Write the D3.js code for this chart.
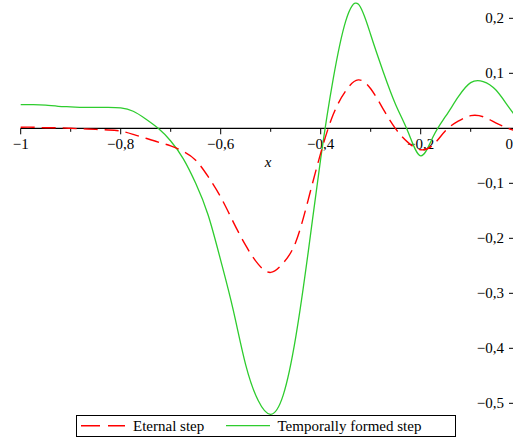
<!DOCTYPE html>
<html><head><meta charset="utf-8">
<script src="https://cdn.jsdelivr.net/npm/d3@7"></script>
<style>body{margin:0;background:#fff}svg{display:block}</style>
</head><body>
<svg id="c" width="513" height="443"></svg>
<script>
const xValues = [-1,-0.975,-0.95,-0.925,-0.9,-0.875,-0.85,-0.825,-0.8,-0.775,-0.75,-0.725,-0.7,-0.675,-0.65,-0.625,-0.6,-0.575,-0.55,-0.525,-0.5,-0.475,-0.45,-0.425,-0.4,-0.375,-0.35,-0.325,-0.3,-0.275,-0.25,-0.225,-0.2,-0.175,-0.15,-0.125,-0.1,-0.075,-0.05,-0.025,0];
const eternalStep = [0.002,0.002,0.001,0.001,0.0,-0.001,-0.002,-0.003,-0.005,-0.011,-0.018,-0.025,-0.032,-0.042,-0.058,-0.088,-0.125,-0.17,-0.213,-0.247,-0.262,-0.245,-0.207,-0.13,-0.045,0.025,0.068,0.088,0.072,0.035,-0.001,-0.026,-0.039,-0.03,-0.004,0.013,0.023,0.021,0.01,0.0,-0.008];
const temporalStep = [0.043,0.043,0.042,0.040,0.039,0.038,0.038,0.038,0.037,0.031,0.017,0.0,-0.023,-0.055,-0.1,-0.158,-0.24,-0.33,-0.43,-0.495,-0.52,-0.485,-0.38,-0.225,-0.055,0.09,0.195,0.226,0.17,0.103,0.043,-0.007,-0.05,-0.015,0.022,0.057,0.083,0.085,0.07,0.04,0.01];
const xTicks = [-1,-0.8,-0.6,-0.4,-0.2,0];
const xMinorTicks = [-0.9,-0.7,-0.5,-0.3,-0.1];
const yTicks = [0.2,0.1,-0.1,-0.2,-0.3,-0.4,-0.5];
const legendLabels = ["Eternal step","Temporally formed step"];

const svg = d3.select("#c");
const x = d3.scaleLinear().domain([-1,0]).range([20.7,520.7]);
const y = d3.scaleLinear().domain([-0.5225,0.2333]).range([415.7,0]);
const fmt = v => (v<0?"\u2212":"") + String(Math.abs(Math.round(v*10)/10)).replace(".",",");
const font = "'Times New Roman', Tinos, 'Liberation Serif', 'DejaVu Serif', serif";

// x axis
const y0 = y(0);
svg.append("line").attr("x1",x(-1)).attr("x2",x(0)).attr("y1",y0).attr("y2",y0).attr("stroke","#000").attr("stroke-width",1.2);
xTicks.forEach(t=>{
  svg.append("line").attr("x1",x(t)).attr("x2",x(t)).attr("y1",y0).attr("y2",y0+6).attr("stroke","#000");
});
xMinorTicks.forEach(t=>{
  svg.append("line").attr("x1",x(t)).attr("x2",x(t)).attr("y1",y0).attr("y2",y0+3.5).attr("stroke","#000");
});
xTicks.forEach(t=>{
  const last = t===0;
  svg.append("text").attr("x",last ? 513 : x(t)).attr("y",149).attr("text-anchor",last?"end":"middle")
    .style("font-family",font).attr("font-size",15).text(fmt(t));
});
svg.append("text").attr("x",268).attr("y",167).attr("text-anchor","middle")
  .style("font-family",font).attr("font-style","italic").attr("font-size",15).text("x");

// y axis ticks (axis line lies at x=0, right of the visible area)
yTicks.forEach(t=>{
  svg.append("line").attr("x1",509).attr("x2",x(0)).attr("y1",y(t)).attr("y2",y(t)).attr("stroke","#000");
  svg.append("text").attr("x",504).attr("y",y(t)+5).attr("text-anchor","end")
    .style("font-family",font).attr("font-size",15).text(fmt(t));
});

const line = d3.line().x((d,i)=>x(xValues[i])).y(d=>y(d)).curve(d3.curveNatural);
svg.append("path").attr("d",line(temporalStep)).attr("fill","none").attr("stroke","#2ecc2e").attr("stroke-width",1.3);
svg.append("path").attr("d",line(eternalStep)).attr("fill","none").attr("stroke","#ff0000").attr("stroke-width",1.4).attr("stroke-dasharray","14,7");

// legend
const lg = svg.append("g");
lg.append("rect").attr("x",76.5).attr("y",415.5).attr("width",379).attr("height",21).attr("fill","#fff").attr("stroke","#000").attr("stroke-width",1);
lg.append("line").attr("x1",81).attr("x2",125).attr("y1",425.7).attr("y2",425.7).attr("stroke","#ff0000").attr("stroke-width",1.4).attr("stroke-dasharray","19,8");
lg.append("text").attr("x",133).attr("y",431).style("font-family",font).attr("font-size",15).text(legendLabels[0]);
lg.append("line").attr("x1",226).attr("x2",270).attr("y1",425.7).attr("y2",425.7).attr("stroke","#2ecc2e").attr("stroke-width",1.3);
lg.append("text").attr("x",277.5).attr("y",431).style("font-family",font).attr("font-size",15).text(legendLabels[1]);
</script>
</body></html>
